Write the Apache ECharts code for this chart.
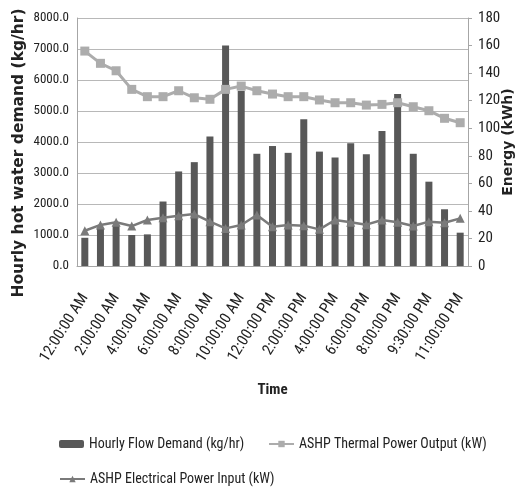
<!DOCTYPE html>
<html>
<head>
<meta charset="utf-8">
<script src="https://cdn.jsdelivr.net/npm/echarts@6/dist/echarts.min.js"></script>
<style>
  html, body { margin: 0; padding: 0; background: #ffffff; }
  #chart { width: 517px; height: 487px; }
</style>
</head>
<body>
<div id="chart"></div>
<script>
// Time slots over one day
const timeSlots = [
  "12:00:00 AM", "1:00:00 AM", "2:00:00 AM", "3:00:00 AM", "4:00:00 AM",
  "5:00:00 AM", "6:00:00 AM", "7:00:00 AM", "8:00:00 AM", "9:00:00 AM",
  "10:00:00 AM", "11:00:00 AM", "12:00:00 PM", "1:00:00 PM", "2:00:00 PM",
  "3:00:00 PM", "4:00:00 PM", "5:00:00 PM", "6:00:00 PM", "7:00:00 PM",
  "8:00:00 PM", "9:00:00 PM", "9:30:00 PM", "10:00:00 PM", "11:00:00 PM"
];

// Hourly hot water flow demand (kg/hr)
const flowDemand = [
  910, 1200, 1300, 1000, 1020, 2080, 3050, 3350, 4180, 7110,
  5650, 3620, 3870, 3650, 4730, 3690, 3500, 3960, 3605, 4355,
  5550, 3620, 2720, 1830, 1075
];

// ASHP thermal power output (kW)
const thermalOutput = [
  156.0, 147.1, 141.7, 128.2, 122.9, 122.9, 127.2, 122.1, 121.0, 128.2,
  130.6, 127.2, 124.8, 122.9, 122.9, 120.5, 118.5, 118.5, 116.8, 117.3,
  118.5, 115.6, 112.7, 107.2, 104.0
];

// ASHP electrical power input (kW)
const electricalInput = [
  25.6, 29.8, 31.7, 29.0, 33.4, 35.1, 36.5, 37.7, 32.2, 27.3,
  29.8, 37.0, 28.5, 29.8, 29.3, 26.6, 33.4, 31.7, 30.0, 33.4,
  31.7, 29.0, 32.2, 31.4, 34.6
];

const seriesNames = [
  "Hourly Flow Demand (kg/hr)",
  "ASHP Thermal Power Output (kW)",
  "ASHP Electrical Power Input (kW)"
];

const narrow = '"Liberation Sans Narrow", "Arial Narrow", "Noto Sans Condensed", "Roboto Condensed", "Liberation Sans", sans-serif';
const boldWide = '"DejaVu Sans", Verdana, sans-serif';

const chart = echarts.init(document.getElementById('chart'), null, { renderer: 'canvas' });

const legendText = { fontFamily: narrow, fontSize: 14, color: '#222' };

// one legend block per entry so each sits where it belongs
function legendEntry(name, left, top) {
  return {
    data: [name],
    left: left, top: top,
    itemWidth: 25, itemHeight: 8,
    textStyle: legendText
  };
}

chart.setOption({
  animation: false,
  backgroundColor: '#ffffff',
  grid: {
    left: 77, right: 49, top: 18, bottom: 221,
    containLabel: false,
    outerBoundsMode: 'none'
  },
  legend: [
    legendEntry(seriesNames[0], 54, 432),
    legendEntry(seriesNames[1], 263, 432),
    legendEntry(seriesNames[2], 54, 467)
  ],
  xAxis: {
    type: 'category',
    data: timeSlots,
    boundaryGap: true,
    name: 'Time',
    nameLocation: 'middle',
    nameGap: 117,
    nameMoveOverlap: false,
    nameTextStyle: { fontFamily: narrow, fontSize: 15, fontWeight: 'bold', color: '#222' },
    axisLine: { lineStyle: { color: '#a6a6a6', width: 1 } },
    axisTick: { show: false },
    axisLabel: {
      interval: 1,
      rotate: 58,
      margin: 29,
      fontFamily: narrow, fontSize: 15.5, color: '#222'
    },
    splitLine: { show: false }
  },
  yAxis: [
    {
      type: 'value',
      min: 0, max: 8000, interval: 1000,
      name: 'Hourly hot water demand (kg/hr)',
      nameLocation: 'middle',
      nameRotate: 90,
      nameGap: 50,
      nameMoveOverlap: false,
      nameTextStyle: {
        fontFamily: boldWide, fontSize: 15.5, fontWeight: 'bold', color: '#222',
        padding: [0, 22, 0, 0]
      },
      axisLine: { show: true, lineStyle: { color: '#a6a6a6' } },
      axisTick: { show: false },
      axisLabel: {
        margin: 8,
        fontFamily: narrow, fontSize: 13, color: '#222',
        formatter: v => v.toFixed(1)
      },
      splitLine: { show: true, lineStyle: { color: '#b8b8b8', width: 1 } }
    },
    {
      type: 'value',
      min: 0, max: 180, interval: 20,
      position: 'right',
      name: 'Energy (kWh)',
      nameLocation: 'middle',
      nameRotate: 90,
      nameGap: 33,
      nameMoveOverlap: false,
      nameTextStyle: { fontFamily: boldWide, fontSize: 14, fontWeight: 'bold', color: '#222' },
      axisLine: { show: true, lineStyle: { color: '#a6a6a6' } },
      axisTick: { show: true, length: 4, inside: false, lineStyle: { color: '#a6a6a6' } },
      axisLabel: { margin: 10, fontFamily: narrow, fontSize: 15, color: '#222' },
      splitLine: { show: false }
    }
  ],
  series: [
    {
      name: seriesNames[0],
      type: 'bar',
      yAxisIndex: 0,
      data: flowDemand,
      barWidth: 7,
      itemStyle: { color: '#585858' },
      z: 2
    },
    {
      name: seriesNames[1],
      type: 'line',
      yAxisIndex: 1,
      data: thermalOutput,
      symbol: 'rect',
      symbolSize: 9,
      lineStyle: { color: '#acacac', width: 3 },
      itemStyle: { color: '#acacac' },
      z: 3
    },
    {
      name: seriesNames[2],
      type: 'line',
      yAxisIndex: 1,
      data: electricalInput,
      symbol: 'triangle',
      symbolSize: 9,
      lineStyle: { color: '#7a7a7a', width: 2.5 },
      itemStyle: { color: '#7a7a7a' },
      z: 4
    }
  ]
});
</script>
</body>
</html>
